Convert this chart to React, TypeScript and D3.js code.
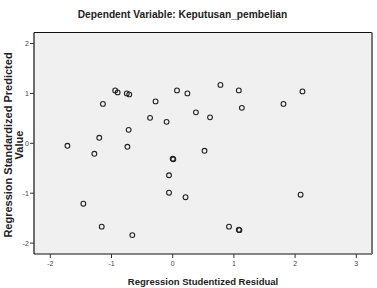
import React, { useRef, useEffect } from 'react';
import * as d3 from 'd3';

// studentized residuals (x) and standardized predicted values (y)
const residuals = [
  -1.72, -1.28, -1.2, -1.14, -0.94, -0.9, -0.75, -0.71, -0.72, -0.74,
  -0.37, -0.28, -0.1, 0.07, 0.24, 0.0, 0.01, -0.06, -0.06, 0.21,
  -1.46, -1.16, -0.66, 0.78, 1.08, 0.38, 0.61, 1.13, 1.81, 2.12,
  0.52, 2.09, 0.92, 1.08, 1.09,
];
const predicted = [
  -0.05, -0.21, 0.11, 0.79, 1.06, 1.02, 1.0, 0.98, 0.27, -0.07,
  0.51, 0.84, 0.43, 1.06, 1.0, -0.31, -0.32, -0.64, -0.99, -1.08,
  -1.21, -1.67, -1.84, 1.17, 1.06, 0.62, 0.52, 0.71, 0.79, 1.04,
  -0.15, -1.03, -1.67, -1.73, -1.74,
];

const xTicks = [-2, -1, 0, 1, 2, 3];
const yTicks = [-2, -1, 0, 1, 2];

const TITLE = 'Dependent Variable: Keputusan_pembelian';
const X_LABEL = 'Regression Studentized Residual';
const Y_LABEL = ['Regression Standardized Predicted', 'Value'];

export default function App() {
  const svgRef = useRef<SVGSVGElement>(null);

  useEffect(() => {
    const svg = d3.select(svgRef.current);
    svg.selectAll('*').remove();

    const width = 377;
    const height = 288;
    const plot = { left: 34, top: 32.5, right: 372, bottom: 254 };
    svg.attr('width', width).attr('height', height);

    const x = d3.scaleLinear().domain([0, 1]).range([172.7, 233.9]);
    const y = d3.scaleLinear().domain([0, 1]).range([143.3, 93.4]);

    // plot background
    svg.append('rect')
      .attr('x', plot.left)
      .attr('y', plot.top)
      .attr('width', plot.right - plot.left)
      .attr('height', plot.bottom - plot.top)
      .attr('fill', '#f0f0f0');

    // frame: dark top/left/bottom, grey right edge
    svg.append('line')
      .attr('x1', plot.left).attr('x2', plot.right)
      .attr('y1', plot.top).attr('y2', plot.top)
      .attr('stroke', '#111').attr('stroke-width', 1.2);
    svg.append('line')
      .attr('x1', plot.left).attr('x2', plot.right)
      .attr('y1', plot.bottom).attr('y2', plot.bottom)
      .attr('stroke', '#111').attr('stroke-width', 1.2);
    svg.append('line')
      .attr('x1', plot.left).attr('x2', plot.left)
      .attr('y1', plot.top).attr('y2', plot.bottom)
      .attr('stroke', '#111').attr('stroke-width', 1.2);
    svg.append('line')
      .attr('x1', plot.right).attr('x2', plot.right)
      .attr('y1', plot.top).attr('y2', plot.bottom)
      .attr('stroke', '#777').attr('stroke-width', 2);

    // x ticks
    const xt = svg.append('g');
    xTicks.forEach(t => {
      xt.append('line')
        .attr('x1', x(t)).attr('x2', x(t))
        .attr('y1', plot.bottom).attr('y2', plot.bottom + 4)
        .attr('stroke', '#333').attr('stroke-width', 1);
      xt.append('text')
        .attr('x', x(t))
        .attr('y', plot.bottom + 12)
        .attr('text-anchor', 'middle')
        .attr('font-family', 'Liberation Sans, Arial, sans-serif')
        .attr('font-size', 7)
        .attr('fill', '#444')
        .text(t);
    });

    // y ticks
    const yt = svg.append('g');
    yTicks.forEach(t => {
      yt.append('line')
        .attr('x1', plot.left - 4).attr('x2', plot.left)
        .attr('y1', y(t)).attr('y2', y(t))
        .attr('stroke', '#333').attr('stroke-width', 1);
      yt.append('text')
        .attr('x', plot.left - 5)
        .attr('y', y(t) + 2.5)
        .attr('text-anchor', 'end')
        .attr('font-family', 'Liberation Sans, Arial, sans-serif')
        .attr('font-size', 7)
        .attr('fill', '#444')
        .text(t);
    });

    // points
    svg.append('g')
      .selectAll('circle')
      .data(residuals.map((r, i) => [r, predicted[i]]))
      .join('circle')
      .attr('cx', d => x(d[0]))
      .attr('cy', d => y(d[1]))
      .attr('r', 2.4)
      .attr('fill', 'none')
      .attr('stroke', '#222')
      .attr('stroke-width', 1.1);

    // title and axis labels
    svg.append('text')
      .attr('x', 182.5)
      .attr('y', 17.5)
      .attr('text-anchor', 'middle')
      .attr('font-family', 'Liberation Sans, Arial, sans-serif')
      .attr('font-weight', 'bold')
      .attr('font-size', 10.2)
      .attr('fill', '#222')
      .text(TITLE);

    svg.append('text')
      .attr('x', 203)
      .attr('y', 285)
      .attr('text-anchor', 'middle')
      .attr('font-family', 'Liberation Sans, Arial, sans-serif')
      .attr('font-weight', 'bold')
      .attr('font-size', 9.5)
      .attr('fill', '#222')
      .text(X_LABEL);

    const yl = svg.append('text')
      .attr('transform', 'translate(0,145) rotate(-90)')
      .attr('text-anchor', 'middle')
      .attr('font-family', 'Liberation Sans, Arial, sans-serif')
      .attr('font-weight', 'bold')
      .attr('font-size', 11)
      .attr('fill', '#222');
    Y_LABEL.forEach((line, i) => {
      yl.append('tspan')
        .attr('x', 0)
        .attr('y', 12 + i * 11)
        .text(line);
    });
  }, []);

  return (
    <svg ref={svgRef} style={{ position: 'absolute', left: 0, top: 0, background: '#fff' }} />
  );
}
